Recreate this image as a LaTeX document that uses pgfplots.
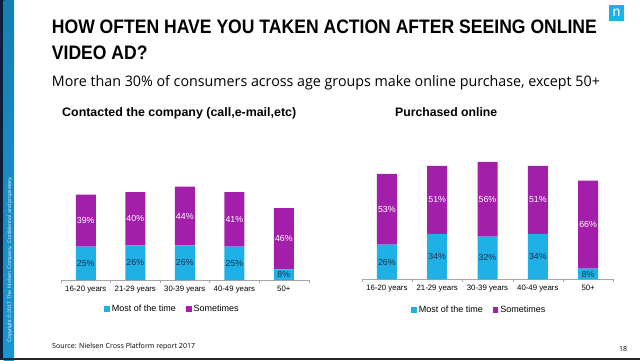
\documentclass[border=0pt]{standalone}
\usepackage{fontspec}
\setmainfont{Liberation Sans}
\newfontfamily\osans{Open Sans}
\usepackage{graphicx}
\usepackage{pgfplots}
\pgfplotsset{compat=1.18}

\definecolor{nblue}{HTML}{1FB1E6}
\definecolor{npurple}{HTML}{A31FAB}
\definecolor{nnavy}{HTML}{1B2F4B}
\definecolor{stripblue}{HTML}{1A96D4}
\definecolor{stripdark}{HTML}{0B2038}
\definecolor{axgray}{HTML}{A6A6A6}

\newsavebox\fitbox
\newlength\fitlen
\newcommand\fitw[2]{\sbox\fitbox{#2}\setlength\fitlen{\wd\fitbox}\pgfmathsetmacro\fitsx{#1/\fitlen}\scalebox{\fitsx}[1]{\usebox\fitbox}}
\newcommand\titlefont{\fontsize{19.5}{22}\bfseries\selectfont}

\pgfplotsset{
  nbars/.style={
    scale only axis, height=120pt,
    xmin=-0.5, xmax=4.5, ymin=0, ymax=90,
    ybar stacked, bar width=20pt,
    axis x line*=bottom, axis y line=none,
    axis line style={draw=axgray},
    xtick={0,1,2,3,4},
    xticklabels={16-20 years,21-29 years,30-39 years,40-49 years,50+},
    major tick length=0pt,
    extra x ticks={-0.5,0.5,1.5,2.5,3.5,4.5},
    extra x tick labels={},
    extra x tick style={major tick length=3pt, tick align=outside, tick style={draw=axgray}},
    xticklabel style={font=\fontsize{7.8}{9}\selectfont, text=black, yshift=-2.5pt},
    clip=false,
    legend columns=2,
    legend image code/.code={\fill[##1] (0pt,-2.8pt) rectangle (5.6pt,2.8pt);},
    legend style={draw=none, fill=none, inner sep=0pt, font=\fontsize{9}{10}\selectfont},
  },
  labaxis/.style={scale only axis, height=120pt,
    xmin=-0.5, xmax=4.5, ymin=0, ymax=90, hide axis, clip=false},
  seglab/.style={draw=none, mark=none,
    nodes near coords, point meta=explicit symbolic,
    every node near coord/.style={anchor=center, inner sep=0pt, font=\fontsize{8.8}{10}\selectfont, text=#1}},
}

\begin{document}%
\sbox\fitbox{\titlefont HOW OFTEN HAVE YOU TAKEN ACTION AFTER SEEING ONLINE}%
\setlength\fitlen{\wd\fitbox}%
\pgfmathsetmacro\tsx{545pt/\fitlen}%
\begin{tikzpicture}[x=1pt,y=1pt]
\useasboundingbox (0,0) rectangle (640,360);
\fill[white] (0,0) rectangle (640,360);
\coordinate (LA) at (61,80);
\coordinate (RA) at (361.7,80.7);
% left strip
\fill[stripdark] (0,0) rectangle (3.5,360);
\shade[top color=stripblue!85!black, bottom color=stripblue] (3.5,0) rectangle (14,360);
\node[rotate=90, anchor=west, inner sep=0, text=white!85!stripblue, font=\fontsize{5}{6}\selectfont] at (9.8,17) {\fitw{166pt}{Copyright \textcopyright\ 2017 The Nielsen Company. Confidential and proprietary.}};
% bottom line
\fill[black!85] (0,0) rectangle (640,2.5);
% logo
\fill[nblue] (609,339) rectangle (624,355);
\node[text=white, font=\fontsize{14}{14}\selectfont, inner sep=0] at (616.5,347.5) {n};
% titles
\node[anchor=base west, inner sep=0] at (51.7,326.7) {\scalebox{\tsx}[1]{\titlefont HOW OFTEN HAVE YOU TAKEN ACTION AFTER SEEING ONLINE}};
\node[anchor=base west, inner sep=0] at (51.7,301) {\scalebox{\tsx}[1]{\titlefont VIDEO AD?}};
\node[anchor=base west, inner sep=0] at (51.7,273.3) {\fitw{548pt}{\osans\fontsize{14.5}{16}\selectfont More than 30\% of consumers across age groups make online purchase, except 50+}};
\node[anchor=base west, inner sep=0] at (62,244) {\fitw{234pt}{\fontsize{12.3}{14}\bfseries\selectfont Contacted the company (call,e-mail,etc)}};
\node[anchor=base west, inner sep=0] at (395,244) {\fitw{102pt}{\fontsize{12.3}{14}\bfseries\selectfont Purchased online}};
\node[anchor=base west, inner sep=0] at (52,12) {\fitw{143pt}{\osans\fontsize{7}{8}\selectfont Source: Nielsen Cross Platform report 2017}};
\node[anchor=base west, inner sep=0, font=\osans\fontsize{7}{8}\selectfont] at (619,9) {18};

% left chart
\begin{axis}[nbars, at={(LA)}, anchor=south west, width=247.6pt,
  legend style={at={(0.174,-0.244)}, anchor=west}]
\addplot[fill=nblue, draw=none] coordinates {(0,25) (1,26) (2,26) (3,25) (4,8)};
\addplot[fill=npurple, draw=none] coordinates {(0,39) (1,40) (2,44) (3,41) (4,46)};
\addlegendentry{Most of the time\kern8pt\mbox{}}
\addlegendentry{Sometimes}
\end{axis}
\begin{axis}[labaxis, at={(LA)}, anchor=south west, width=247.6pt]
\addplot[seglab=nnavy] coordinates {(0,12.5) [25\%] (1,13) [26\%] (2,13) [26\%] (3,12.5) [25\%] (4,4) [8\%]};
\addplot[seglab=white] coordinates {(0,44.5) [39\%] (1,46) [40\%] (2,48) [44\%] (3,45.5) [41\%] (4,31) [46\%]};
\end{axis}

% right chart
\begin{axis}[nbars, at={(RA)}, anchor=south west, width=251.6pt,
  legend style={at={(0.196,-0.256)}, anchor=west}]
\addplot[fill=nblue, draw=none] coordinates {(0,26) (1,34) (2,32) (3,34) (4,8)};
\addplot[fill=npurple, draw=none] coordinates {(0,53) (1,51) (2,56) (3,51) (4,66)};
\addlegendentry{Most of the time\kern8pt\mbox{}}
\addlegendentry{Sometimes}
\end{axis}
\begin{axis}[labaxis, at={(RA)}, anchor=south west, width=251.6pt]
\addplot[seglab=nnavy] coordinates {(0,13) [26\%] (1,17) [34\%] (2,16) [32\%] (3,17) [34\%] (4,4) [8\%]};
\addplot[seglab=white] coordinates {(0,52.5) [53\%] (1,59.5) [51\%] (2,60) [56\%] (3,59.5) [51\%] (4,41) [66\%]};
\end{axis}
\end{tikzpicture}%
\end{document}
